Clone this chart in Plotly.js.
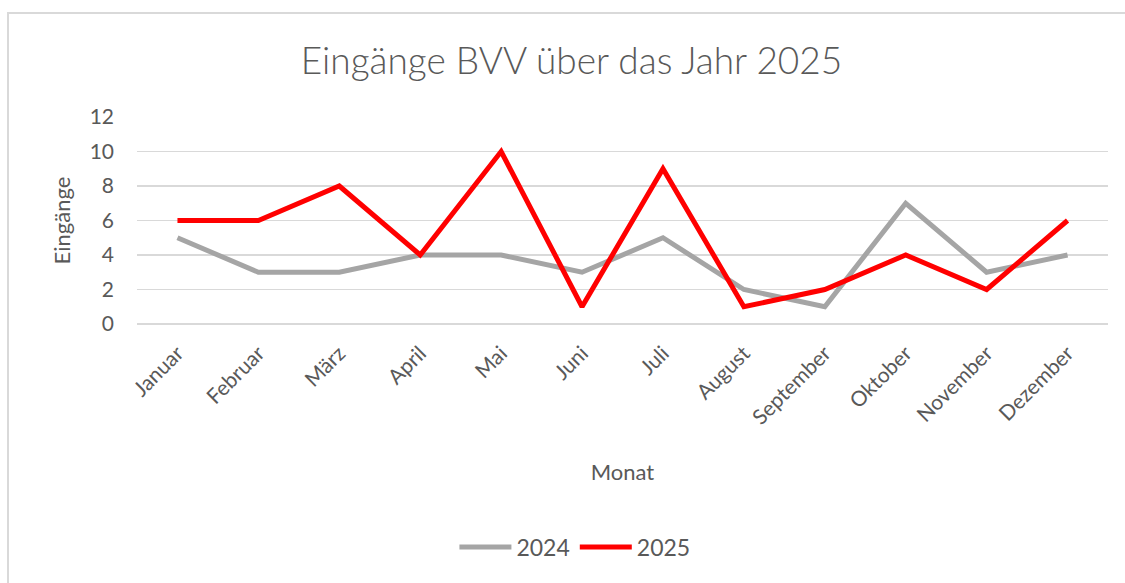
<!DOCTYPE html>
<html>
<head>
<meta charset="utf-8">
<script src="https://cdn.plot.ly/plotly-3.0.1.min.js"></script>
<style>
html,body{margin:0;padding:0;background:#fff;}
#frame{position:absolute;left:7px;top:12px;width:1130px;height:600px;border-left:2px solid #d9d9d9;border-top:2px solid #d9d9d9;box-sizing:border-box;pointer-events:none;}
#chart{position:absolute;left:0;top:0;width:1125px;height:583px;}
</style>
</head>
<body>
<div id="chart"></div>
<div id="frame"></div>
<script>
const months = ["Januar","Februar","März","April","Mai","Juni","Juli","August","September","Oktober","November","Dezember"];
const values2024 = [5,3,3,4,4,3,5,2,1,7,3,4];
const values2025 = [6,6,8,4,10,1,9,1,2,4,2,6];
const yTicks = [0,2,4,6,8,10,12];

const font = "Lato, Open Sans, sans-serif";
const col = "#595959";
const traces = [
  {x: months, y: values2024, name: "2024", type: "scatter", mode: "lines",
   line: {color: "#A5A5A5", width: 5}},
  {x: months, y: values2025, name: "2025", type: "scatter", mode: "lines",
   line: {color: "#FF0000", width: 5}}
];
const layout = {
  width: 1125, height: 583,
  paper_bgcolor: "rgba(0,0,0,0)", plot_bgcolor: "#fff",
  margin: {l: 137, r: 17, t: 117, b: 259},
  font: {family: font, color: col, size: 20},
  title: {text: "Eingänge BVV über das Jahr 2025", x: 0.508, xanchor: "center", y: 0.895, yanchor: "middle",
          font: {family: font, size: 37, color: col, weight: 300}},
  xaxis: {type: "category", range: [-0.5, 11.5], tickangle: -45, showgrid: false, zeroline: false,
          showline: false, ticks: "", ticklabelstandoff: 12, tickfont: {size: 21, color: col},
          title: {text: "Monat", font: {size: 22, color: col}, standoff: 36}},
  yaxis: {range: [0, 12], tickvals: yTicks, showgrid: true, gridcolor: "#d9d9d9", gridwidth: 1.5,
          zeroline: true, zerolinecolor: "#d9d9d9", zerolinewidth: 1.5, ticks: "", ticklen: 0,
          ticklabelstandoff: 22, tickfont: {size: 21, color: col},
          title: {text: "Eingänge", font: {size: 22, color: col}, standoff: 12}},
  showlegend: true,
  legend: {orientation: "h", x: 0.451, xanchor: "center", y: -1.077, yanchor: "middle",
           font: {size: 23, color: col}, itemwidth: 52, tracegroupgap: 0},
};
Plotly.newPlot("chart", traces, layout, {displayModeBar: false, staticPlot: true});
</script>
</body>
</html>
